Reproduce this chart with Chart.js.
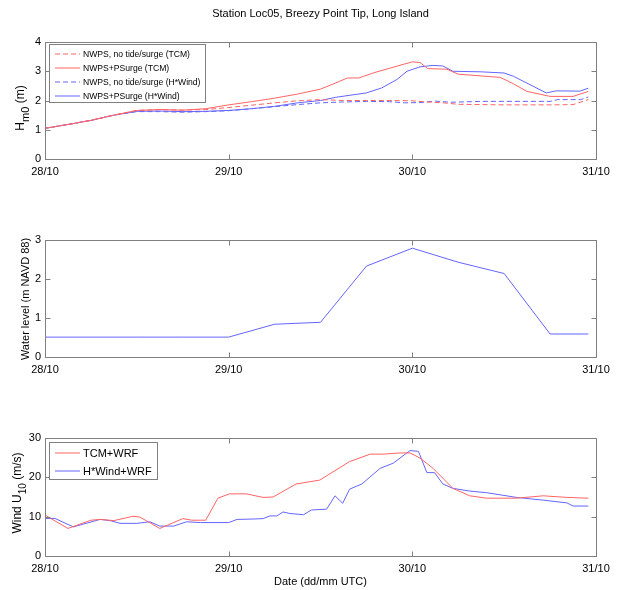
<!DOCTYPE html>
<html><head><meta charset="utf-8">
<script src="https://cdn.jsdelivr.net/npm/chart.js@4"></script>
<style>
html,body{margin:0;padding:0;background:#fff;}
#wrap{position:relative;width:618px;height:590px;background:#fff;}
canvas{position:absolute;left:0;top:0;}
</style></head><body>
<div id="wrap">
<canvas id="c1" width="618" height="590"></canvas>
<canvas id="c2" width="618" height="590"></canvas>
<canvas id="c3" width="618" height="590"></canvas>
</div>
<script>
// ---------- data (x in hours since 28/10 00 UTC) ----------
const dayLabels = ['28/10', '29/10', '30/10', '31/10'];

const tcmNoTideHours = [0,3,6,9,12,15,18,21,24,27,30,33,36,39,42,45,48,50,52,54,57,60,66,69,71];
const tcmNoTideHs    = [1.05,1.18,1.32,1.50,1.66,1.69,1.67,1.69,1.76,1.84,1.92,1.99,2.03,2.00,2.00,2.00,1.99,1.95,1.92,1.87,1.86,1.85,1.85,1.86,2.03];

const tcmSurgeHours = [0,3,6,9,12,15,18,21,24,27,30,33,36,38,39.5,41,43,45,47,48,49,50,52.5,54,57,59.5,61,63,66,69,71];
const tcmSurgeHs    = [1.05,1.18,1.32,1.50,1.66,1.69,1.67,1.72,1.85,1.96,2.08,2.22,2.39,2.60,2.77,2.77,2.95,3.10,3.25,3.32,3.30,3.09,3.07,2.90,2.84,2.79,2.60,2.31,2.14,2.14,2.31];

const hwNoTideHours = [0,3,6,9,12,15,18,21,24,27,30,33,36,39,42,45,47,49,51,53,57,66,67,70,71];
const hwNoTideHs    = [1.05,1.18,1.32,1.50,1.62,1.62,1.60,1.62,1.65,1.72,1.79,1.86,1.92,1.95,1.97,1.96,1.92,1.93,1.98,1.94,1.97,1.97,2.03,2.03,2.12];

const hwSurgeHours = [0,3,6,9,12,15,18,21,24,27,30,33,36,38,42,44,46,47.3,49,50.7,52,53.3,57,60,61.2,65.5,66.8,69.9,71];
const hwSurgeHs    = [1.05,1.18,1.32,1.50,1.63,1.64,1.62,1.63,1.66,1.72,1.80,1.92,2.00,2.11,2.26,2.43,2.72,3.00,3.15,3.20,3.18,3.00,2.98,2.94,2.83,2.26,2.33,2.32,2.42];

const waterHours = [0,6,12,18,24,30,36,42,48,54,60,66,71];
const waterLevel = [0.51,0.51,0.51,0.51,0.51,0.84,0.89,2.33,2.79,2.43,2.14,0.59,0.59];

const windTcmHours = [0,3,6,7.2,9,11.5,12.4,15,18,19.2,21,22.6,24.1,26.3,28.5,29.8,32.8,35.9,39.8,42.5,44.2,46.4,47.7,49,50.7,53.3,55.5,57.7,61.6,65.1,68.2,71];
const windTcm      = [10.4,7.0,9.1,9.3,9.0,10.1,9.9,7.0,9.5,9.1,9.1,14.7,15.8,15.8,14.9,15.0,18.3,19.3,24.0,25.9,25.9,26.2,26.2,24.9,22.3,17.2,15.3,14.7,14.7,15.3,14.9,14.7];

const windHwHours = [0,1.3,3.7,7.2,8.5,9.8,12,13.7,15,16.8,18.5,20.3,24,25.1,27.2,28.5,29.4,30.3,31.1,32,33.8,34.8,36.8,37.9,38.9,39.8,41.4,43.8,45.5,47.7,48.8,49.9,50.9,52,53.3,55.5,57.7,61.6,65.1,68.2,69,71];
const windHw      = [9.55,9.55,7.4,9.3,9.0,8.3,8.3,8.7,7.6,7.6,8.7,8.5,8.5,9.3,9.4,9.5,10.2,10.2,11.2,10.8,10.5,11.7,11.9,15.3,13.4,17.0,18.3,22.3,23.6,26.8,26.6,21.2,21.2,18.3,17.2,16.5,16.1,14.9,14.2,13.5,12.7,12.7];

// ---------- styling ----------
const FONT = '"Liberation Sans", Arial, Helvetica, sans-serif';
const RED = 'rgb(255,100,100)';
const BLUE = 'rgb(100,100,255)';
const AXIS_GREY = '#808080';
const W = 618, H = 590;
const PLOT_LEFT = 45, PLOT_RIGHT = 596, XAXIS_H = 20;

function pts(xs, ys) { return xs.map((x, i) => ({ x: x, y: ys[i] })); }

function ds(label, xs, ys, color, dashed) {
  return {
    label: label, data: pts(xs, ys), borderColor: color, backgroundColor: color,
    borderWidth: 1, pointRadius: 0, tension: 0, fill: false,
    borderDash: dashed ? [5, 3] : []
  };
}

// draw text parts (with optional subscript) rotated -90deg
function drawRotLabel(ctx, parts, cy, baseX) {
  ctx.save();
  let total = 0;
  parts.forEach(p => { ctx.font = p.size + 'px ' + FONT; p.w = ctx.measureText(p.t).width; total += p.w; });
  ctx.translate(baseX, cy);
  ctx.rotate(-Math.PI / 2);
  ctx.fillStyle = '#000';
  ctx.textBaseline = 'alphabetic';
  ctx.textAlign = 'left';
  let x = -total / 2;
  parts.forEach(p => {
    ctx.font = p.size + 'px ' + FONT;
    ctx.fillText(p.t, x, p.dy || 0);
    x += p.w;
  });
  ctx.restore();
}

const matlabPlugin = {
  id: 'matlab',
  afterDraw(chart, args, opts) {
    const ctx = chart.ctx;
    const a = chart.chartArea;
    const xs = chart.scales.x, ys = chart.scales.y;
    ctx.save();
    ctx.strokeStyle = AXIS_GREY;
    ctx.lineWidth = 1;
    const L = Math.round(a.left) + 0.5, R = Math.round(a.right) + 0.5;
    const T = Math.round(a.top) + 0.5, B = Math.round(a.bottom) + 0.5;
    ctx.strokeRect(L, T, R - L, B - T);
    const tl = 5;
    ctx.beginPath();
    xs.ticks.forEach(t => {
      const px = Math.round(xs.getPixelForValue(t.value)) + 0.5;
      ctx.moveTo(px, B); ctx.lineTo(px, B - tl);
      ctx.moveTo(px, T); ctx.lineTo(px, T + tl);
    });
    ys.ticks.forEach(t => {
      const py = Math.round(ys.getPixelForValue(t.value)) + 0.5;
      ctx.moveTo(L, py); ctx.lineTo(L + tl, py);
      ctx.moveTo(R, py); ctx.lineTo(R - tl, py);
    });
    ctx.stroke();

    ctx.fillStyle = '#000';
    ctx.font = '11px ' + FONT;
    ctx.textAlign = 'center';
    ctx.textBaseline = 'middle';
    if (opts.title) ctx.fillText(opts.title.text, (a.left + a.right) / 2, opts.title.y);
    if (opts.xlabel) ctx.fillText(opts.xlabel.text, (a.left + a.right) / 2, opts.xlabel.y);
    if (opts.ylabel) drawRotLabel(ctx, opts.ylabel.parts, opts.ylabel.cy, opts.ylabel.baseX);

    if (opts.legend) {
      const lg = opts.legend;
      ctx.fillStyle = '#fff';
      ctx.fillRect(lg.x, lg.y, lg.w, lg.h);
      ctx.strokeStyle = AXIS_GREY;
      ctx.lineWidth = 1;
      ctx.setLineDash([]);
      ctx.strokeRect(lg.x + 0.5, lg.y + 0.5, lg.w, lg.h);
      chart.data.datasets.forEach((d, i) => {
        const yy = lg.rows[i];
        ctx.save();
        ctx.strokeStyle = d.borderColor;
        ctx.lineWidth = 1;
        ctx.setLineDash(d.borderDash || []);
        ctx.beginPath();
        ctx.moveTo(lg.lineX0, yy);
        ctx.lineTo(lg.lineX1, yy);
        ctx.stroke();
        ctx.restore();
        ctx.fillStyle = '#000';
        ctx.font = lg.size + 'px ' + FONT;
        ctx.textAlign = 'left';
        ctx.textBaseline = 'middle';
        ctx.fillText(d.label, lg.textX, yy + 0.5);
      });
    }
    ctx.restore();
  }
};

function makeChart(id, datasets, cfg) {
  return new Chart(document.getElementById(id), {
    type: 'line',
    data: { datasets: datasets },
    plugins: [matlabPlugin],
    options: {
      responsive: false,
      animation: false,
      events: [],
      layout: { padding: { left: 0, right: W - PLOT_RIGHT, top: cfg.top, bottom: H - cfg.bottom - XAXIS_H } },
      plugins: {
        legend: { display: false },
        title: { display: false },
        tooltip: { enabled: false },
        matlab: cfg.matlab
      },
      scales: {
        x: {
          type: 'linear', min: 0, max: 72,
          grid: { display: false, drawTicks: false },
          border: { display: false },
          afterFit: s => { s.height = XAXIS_H; },
          afterBuildTicks: s => { s.ticks = dayLabels.map((l, i) => ({ value: i * 24 })); },
          ticks: {
            autoSkip: false, maxRotation: 0, padding: 6,
            color: '#000', font: { size: 11, family: FONT },
            callback: v => dayLabels[Math.round(v / 24)]
          }
        },
        y: {
          type: 'linear', min: cfg.yMin, max: cfg.yMax,
          grid: { display: false, drawTicks: false },
          border: { display: false },
          afterFit: s => { s.width = PLOT_LEFT; },
          ticks: {
            stepSize: cfg.yStep, padding: 4,
            color: '#000', font: { size: 11, family: FONT }
          }
        }
      }
    }
  });
}

makeChart('c1', [
  ds('NWPS, no tide/surge (TCM)', tcmNoTideHours, tcmNoTideHs, RED, true),
  ds('NWPS+PSurge (TCM)', tcmSurgeHours, tcmSurgeHs, RED, false),
  ds('NWPS, no tide/surge (H*Wind)', hwNoTideHours, hwNoTideHs, BLUE, true),
  ds('NWPS+PSurge (H*Wind)', hwSurgeHours, hwSurgeHs, BLUE, false)
], {
  top: 42, bottom: 159, yMin: 0, yMax: 4, yStep: 1,
  matlab: {
    title: { text: 'Station Loc05, Breezy Point Tip, Long Island', y: 13.5 },
    ylabel: { cy: 108, baseX: 24, parts: [
      { t: 'H', size: 12 }, { t: 'm0', size: 11, dy: 5 }, { t: ' (m)', size: 12 }
    ] },
    legend: { x: 49, y: 44, w: 156, h: 58, rows: [54, 68, 82, 96], lineX0: 55, lineX1: 80, textX: 83, size: 8.6 }
  }
});

makeChart('c2', [
  ds('Water level', waterHours, waterLevel, BLUE, false)
], {
  top: 240, bottom: 357, yMin: 0, yMax: 3, yStep: 1,
  matlab: {
    ylabel: { cy: 299, baseX: 29, parts: [{ t: 'Water level (m NAVD 88)', size: 11 }] }
  }
});

makeChart('c3', [
  ds('TCM+WRF', windTcmHours, windTcm, RED, false),
  ds('H*Wind+WRF', windHwHours, windHw, BLUE, false)
], {
  top: 438, bottom: 556, yMin: 0, yMax: 30, yStep: 10,
  matlab: {
    xlabel: { text: 'Date (dd/mm UTC)', y: 582 },
    ylabel: { cy: 493, baseX: 21, parts: [
      { t: 'Wind U', size: 12 }, { t: '10', size: 10, dy: 5 }, { t: ' (m/s)', size: 12 }
    ] },
    legend: { x: 49, y: 442, w: 108, h: 37, rows: [453, 471], lineX0: 55, lineX1: 80, textX: 83, size: 11 }
  }
});
</script>
</body></html>
